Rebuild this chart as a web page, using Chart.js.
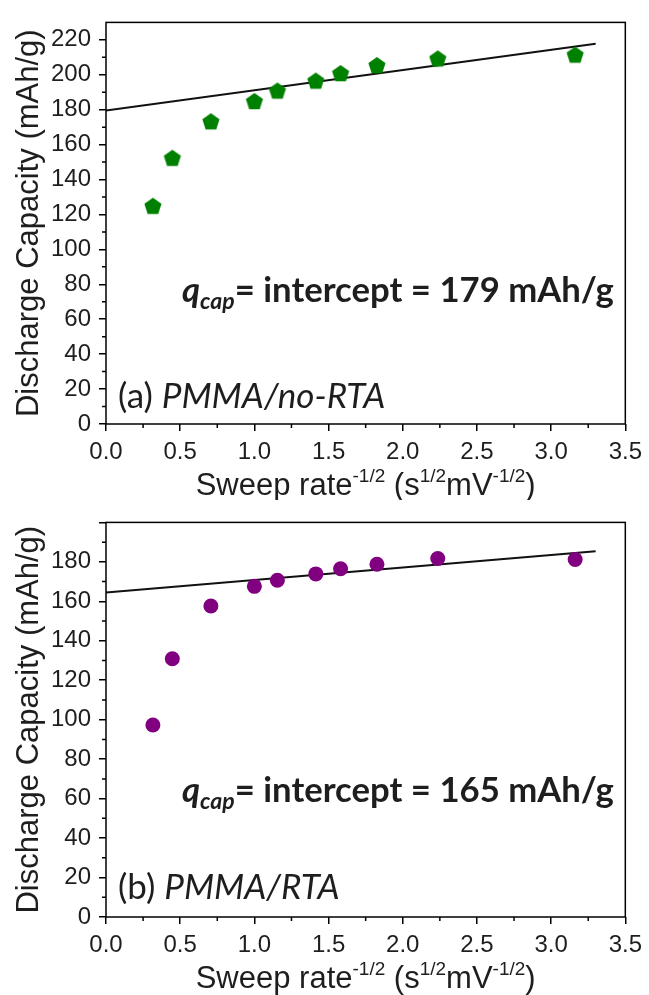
<!DOCTYPE html>
<html>
<head>
<meta charset="utf-8">
<script src="https://cdn.jsdelivr.net/npm/chart.js@4.4.0/dist/chart.umd.min.js"></script>
<style>
  html, body { margin: 0; padding: 0; background: #fff; }
  canvas { position: absolute; left: 0; }
  #chartA { top: 0; }
  #chartB { top: 500px; }
</style>
</head>
<body>
<canvas id="chartA" width="649" height="500"></canvas>
<canvas id="chartB" width="649" height="495"></canvas>
<script>
// sweep rate^-1/2 for 10, 5, 2, 1, 0.75, 0.5, 0.4, 0.3, 0.2, 0.1 mV/s
var sweepX = [0.316, 0.447, 0.707, 1.0, 1.155, 1.414, 1.581, 1.826, 2.236, 3.162];
var capNoRTA = [125, 152.5, 173.4, 185, 191, 196.7, 201, 205.6, 209.4, 211.6];
var capRTA = [97.3, 130.9, 157.6, 167.6, 170.7, 173.9, 176.5, 178.8, 181.7, 181.2];
var fitX = [0, 3.3];
var fitNoRTA = [179.5, 217.8];
var fitRTA = [164.5, 185.4];

var textColor = '#1e1e1e';
var xTitleParts = [
    { t: 'Sweep rate' }, { t: '-1/2', sup: true }, { t: ' (s' }, { t: '1/2', sup: true },
    { t: 'mV' }, { t: '-1/2', sup: true }, { t: ')' }
];

function pts(xs, ys) {
    return xs.map(function(x, i) { return { x: x, y: ys[i] }; });
}

function pentagon(color, r) {
    var c = document.createElement('canvas');
    var s = Math.ceil(r * 2 + 2);
    c.width = s; c.height = s;
    var g = c.getContext('2d');
    g.beginPath();
    for (var i = 0; i < 5; i++) {
        var a = -Math.PI / 2 + i * 2 * Math.PI / 5;
        var px = s / 2 + r * Math.cos(a), py = s / 2 + r * Math.sin(a) + r * 0.1;
        if (i) g.lineTo(px, py); else g.moveTo(px, py);
    }
    g.closePath();
    g.fillStyle = color;
    g.fill();
    return c;
}

function drawParts(ctx, parts, x, base, align) {
    var w = 0;
    parts.forEach(function(p) { ctx.font = p.font; p.w = ctx.measureText(p.t).width; w += p.w; });
    if (align === 'center') x -= w / 2;
    parts.forEach(function(p) {
        ctx.font = p.font;
        ctx.fillText(p.t, x, base + (p.dy || 0));
        x += p.w;
    });
}

var framePlugin = {
    id: 'frame',
    afterDraw: function(chart, args, opts) {
        var ctx = chart.ctx, a = chart.chartArea, sx = chart.scales.x, sy = chart.scales.y;
        ctx.save();
        ctx.strokeStyle = '#000';
        ctx.lineWidth = 1.5;
        // minor ticks between the major ones
        ctx.beginPath();
        var xt = sx.ticks, yt = sy.ticks;
        for (var i = 0; i < xt.length - 1; i++) {
            var px = sx.getPixelForValue((xt[i].value + xt[i + 1].value) / 2);
            ctx.moveTo(px, a.bottom); ctx.lineTo(px, a.bottom + 4);
        }
        for (var j = 0; j < yt.length - 1; j++) {
            var py = sy.getPixelForValue((yt[j].value + yt[j + 1].value) / 2);
            ctx.moveTo(a.left, py); ctx.lineTo(a.left - 4, py);
        }
        ctx.stroke();
        ctx.strokeRect(a.left, a.top, a.right - a.left, a.bottom - a.top);

        ctx.fillStyle = textColor;
        ctx.textBaseline = 'alphabetic';
        ctx.textAlign = 'left';
        // x title with superscripts
        var xparts = xTitleParts.map(function(p) {
            return { t: p.t, font: (p.sup ? '19px' : '31px') + ' "Liberation Sans"', dy: p.sup ? -13 : 0 };
        });
        drawParts(ctx, xparts, (a.left + a.right) / 2, opts.xTitleBase, 'center');

        // annotations
        drawParts(ctx, [
            { t: 'q', font: 'italic bold 34.7px Lato' },
            { t: 'cap', font: 'italic bold 23px Lato', dy: 7 },
            { t: '= intercept = ' + opts.intercept + ' mAh/g', font: 'bold 34.7px Lato' }
        ], 182, opts.qBase, 'left');
        drawParts(ctx, [
            { t: opts.tag + ' ', font: '35px Lato' },
            { t: opts.sample, font: 'italic 35px Lato' }
        ], 118, opts.tagBase, 'left');

        // y title
        ctx.translate(29, (a.top + a.bottom) / 2);
        ctx.rotate(-Math.PI / 2);
        ctx.textAlign = 'center';
        ctx.textBaseline = 'middle';
        ctx.font = '31px "Liberation Sans"';
        ctx.fillText('Discharge Capacity (mAh/g)', 0, 0);
        ctx.restore();
    }
};

function makeChart(id, cfg) {
    var tickFont = { family: 'Liberation Sans', size: 24 };
    return new Chart(document.getElementById(id), {
        type: 'scatter',
        data: {
            datasets: [{
                data: pts(sweepX, cfg.cap),
                pointStyle: cfg.marker,
                pointRadius: 7.5,
                backgroundColor: cfg.color,
                borderColor: cfg.color,
                borderWidth: 0,
                order: 0
            }, {
                type: 'line',
                data: pts(fitX, cfg.fit),
                borderColor: '#111',
                borderWidth: 2,
                pointRadius: 0,
                fill: false,
                order: 1
            }]
        },
        options: {
            responsive: false,
            animation: false,
            layout: { padding: { top: cfg.padTop, right: 21, left: 0, bottom: 0 } },
            plugins: {
                legend: { display: false },
                tooltip: { enabled: false },
                frame: cfg.text
            },
            scales: {
                x: {
                    type: 'linear', min: 0, max: 3.5,
                    ticks: {
                        stepSize: 0.5, autoSkip: false, maxRotation: 0, padding: 7,
                        font: tickFont, color: textColor,
                        callback: function(v) { return v.toFixed(1); }
                    },
                    grid: { drawOnChartArea: false, tickLength: 7, color: '#000', lineWidth: 1.5 },
                    border: { display: false },
                    afterFit: function(s) { s.height = cfg.xh; }
                },
                y: {
                    type: 'linear', min: 0, max: cfg.ymax,
                    ticks: {
                        stepSize: 20, includeBounds: false, padding: 8,
                        font: tickFont, color: textColor,
                        callback: function(v) { return v > cfg.ylabelMax ? '' : v; }
                    },
                    grid: { drawOnChartArea: false, tickLength: 7, color: '#000', lineWidth: 1.5 },
                    border: { display: false },
                    afterFit: function(s) { s.width = 106; }
                }
            }
        },
        plugins: [framePlugin]
    });
}

var chartA = makeChart('chartA', {
    cap: capNoRTA, fit: fitNoRTA, marker: pentagon('#008000', 9), color: '#008000',
    ymax: 230, ylabelMax: 220, padTop: 13, xh: 76,
    text: { intercept: 179, tag: '(a)', sample: 'PMMA/no-RTA', qBase: 302, tagBase: 408, xTitleBase: 495 }
});

var chartB = makeChart('chartB', {
    cap: capRTA, fit: fitRTA, marker: 'circle', color: '#800080',
    ymax: 200, ylabelMax: 180, padTop: 6, xh: 78,
    text: { intercept: 165, tag: '(b)', sample: 'PMMA/RTA', qBase: 302, tagBase: 399, xTitleBase: 488 }
});
</script>
</body>
</html>
